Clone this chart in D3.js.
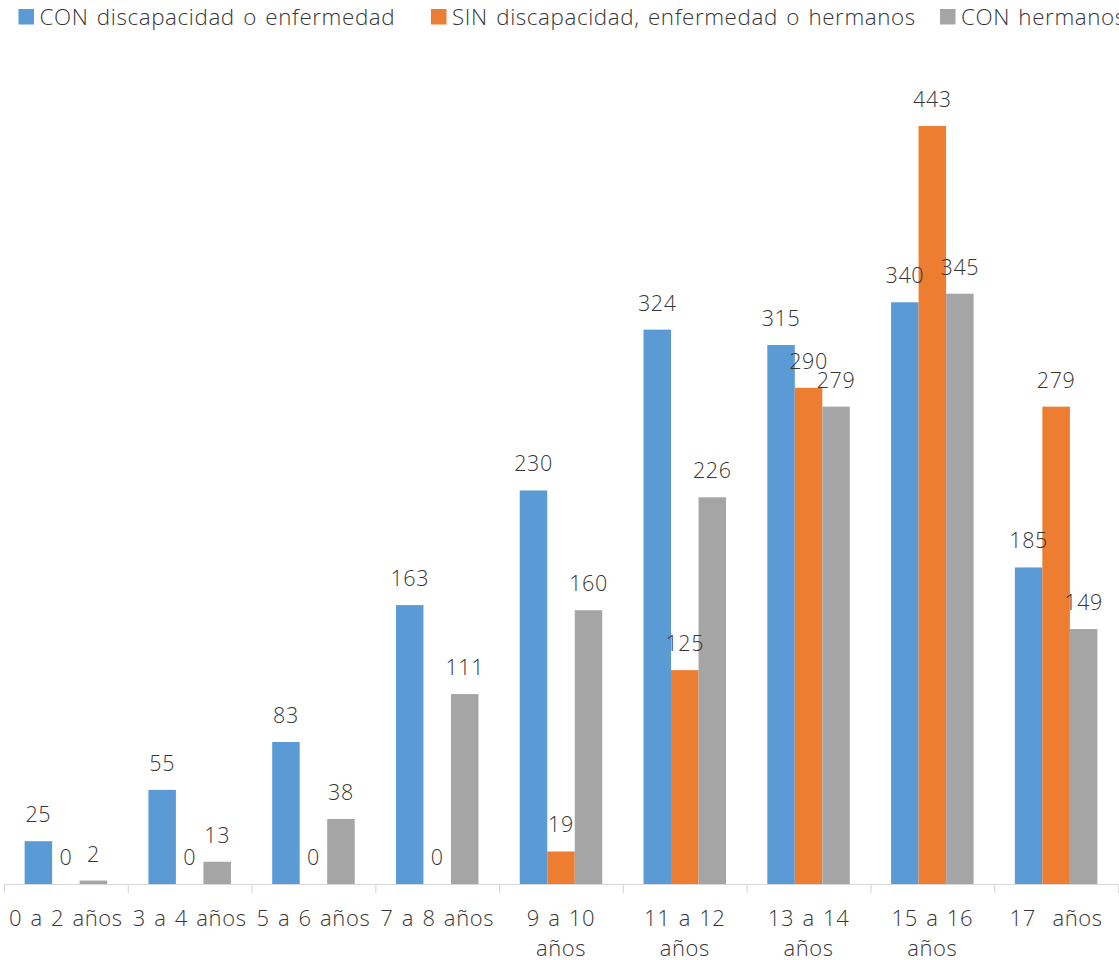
<!DOCTYPE html>
<html>
<head>
<meta charset="utf-8">
<script src="https://cdn.jsdelivr.net/npm/d3@7"></script>
<style>
  body { margin: 0; background: #fff; }
  svg text { font-family: "Open Sans", Lato, sans-serif; font-weight: 300; fill: #363636; white-space: pre;
             letter-spacing: 0.6px; word-spacing: 2px; }
</style>
</head>
<body>
<div id="chart"></div>
<script>
var categories = ["0-2", "3-4", "5-6", "7-8", "9-10", "11-12", "13-14", "15-16", "17"];
var tickLabels = [["0 a 2 años"], ["3 a 4 años"], ["5 a 6 años"], ["7 a 8 años"], ["9 a 10", "años"],
                  ["11 a 12", "años"], ["13 a 14", "años"], ["15 a 16", "años"], ["17  años"]];
var seriesNames = ["CON discapacidad o enfermedad", "SIN discapacidad, enfermedad o hermanos", "CON hermanos"];
var conDiscapacidad = [25, 55, 83, 163, 230, 324, 315, 340, 185];
var sinNada = [0, 0, 0, 0, 19, 125, 290, 443, 279];
var conHermanos = [2, 13, 38, 111, 160, 226, 279, 345, 149];
var colors = ["#5b9bd5", "#ed7d31", "#a5a5a5"];

var width = 1119, height = 960;
var allSeries = [conDiscapacidad, sinNada, conHermanos];

var svg = d3.select("#chart").append("svg")
    .attr("width", width)
    .attr("height", height);

// scales
var x0 = d3.scaleBand().domain(categories).range([4, 1118]).paddingInner(0).paddingOuter(0);
var x1 = d3.scaleBand().domain(d3.range(3)).range([0, x0.bandwidth()]).paddingInner(0).paddingOuter(0.75);
var y = d3.scaleLinear().domain([0, 500]).range([884, 28.5]);

// bars
var groups = svg.selectAll(".grp")
    .data(categories)
    .enter().append("g")
    .attr("class", "grp")
    .attr("transform", function(d) { return "translate(" + x0(d) + ",0)"; });

groups.selectAll("rect")
    .data(function(d, i) { return allSeries.map(function(s, k) { return {k: k, v: s[i]}; }); })
    .enter().append("rect")
    .attr("x", function(d) { return x1(d.k); })
    .attr("width", x1.bandwidth())
    .attr("y", function(d) { return y(d.v); })
    .attr("height", function(d) { return y(0) - y(d.v); })
    .attr("fill", function(d) { return colors[d.k]; });

// axis
var xb = d3.scaleLinear().domain([0, categories.length]).range([4, 1118]);
var axis = svg.append("g")
    .attr("transform", "translate(0," + y(0) + ")")
    .call(d3.axisBottom(xb).tickValues(d3.range(categories.length + 1)).tickFormat("").tickSize(9).tickSizeOuter(0));
axis.selectAll("path, line").attr("stroke", "#d9d9d9").attr("stroke-width", 1.2);

// category labels
svg.selectAll(".cat")
    .data(categories)
    .enter().append("text")
    .attr("class", "cat")
    .attr("text-anchor", "middle")
    .style("font-size", "22px")
    .attr("x", function(d) { return x0(d) + x0.bandwidth() / 2; })
    .attr("y", 926)
    .each(function(d, i) {
        var t = d3.select(this);
        tickLabels[i].forEach(function(line, j) {
            t.append("tspan")
                .attr("x", x0(d) + x0.bandwidth() / 2)
                .attr("dy", j === 0 ? 0 : 30)
                .text(line);
        });
    });

// value labels
groups.selectAll(".val")
    .data(function(d, i) { return allSeries.map(function(s, k) { return {k: k, v: s[i]}; }); })
    .enter().append("text")
    .attr("class", "val")
    .attr("text-anchor", "middle")
    .style("font-size", "21.5px")
    .attr("x", function(d) { return x1(d.k) + x1.bandwidth() / 2; })
    .attr("y", function(d) { return y(d.v) - 19; })
    .text(function(d) { return d.v; });

// legend
var legendX = [18.5, 431, 940];
var legend = svg.selectAll(".leg")
    .data(seriesNames)
    .enter().append("g")
    .attr("class", "leg")
    .attr("transform", function(d, i) { return "translate(" + legendX[i] + ",0)"; });

legend.append("rect")
    .attr("x", 0).attr("y", 9)
    .attr("width", 15.5).attr("height", 15.5)
    .attr("fill", function(d, i) { return colors[i]; });

legend.append("text")
    .attr("x", 21).attr("y", 25)
    .style("font-size", "22.4px")
    .text(function(d) { return d; });
</script>
</body>
</html>
